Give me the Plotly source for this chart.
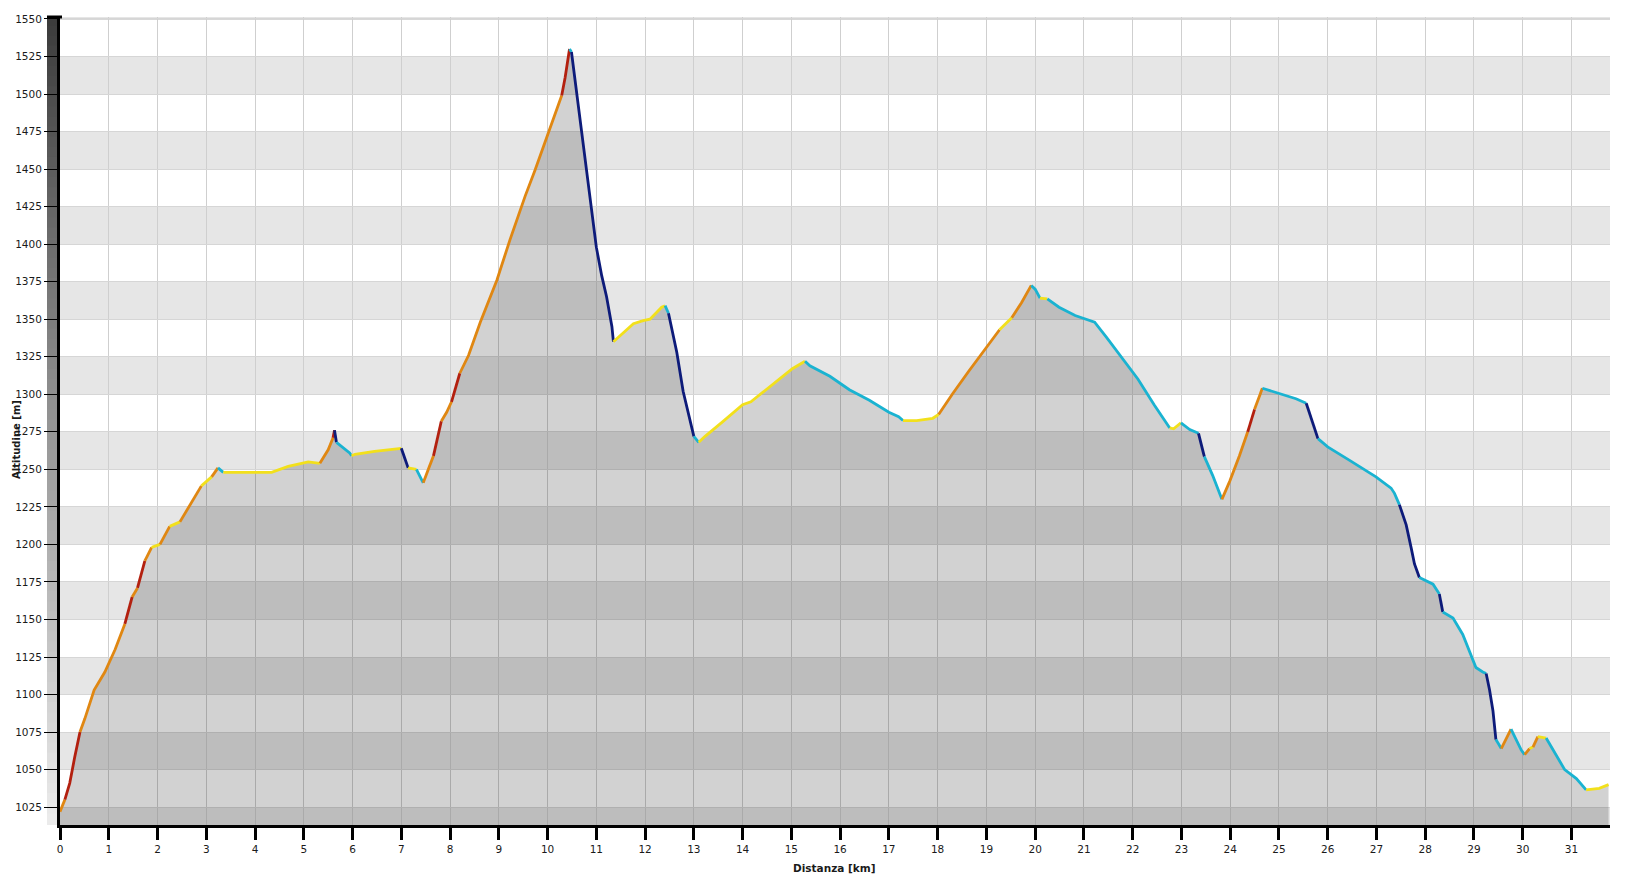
import plotly.graph_objects as go

# ---- data ----
distance_km = [
    0.00, 0.10, 0.20, 0.30, 0.41, 0.51, 0.70, 0.92, 1.13, 1.33, 1.48, 1.59, 1.74, 1.88,
    2.05, 2.25, 2.46, 2.70, 2.90, 3.11, 3.24, 3.35, 3.72, 4.34, 4.68, 5.09, 5.33, 5.50,
    5.60, 5.63, 5.67, 5.94, 5.98, 6.05, 6.45, 6.97, 7.00, 7.14, 7.31, 7.45, 7.55, 7.66,
    7.82, 7.93, 8.03, 8.20, 8.38, 8.62, 8.96, 9.23, 9.54, 9.74, 9.98, 10.15, 10.29, 10.36,
    10.45, 10.49, 10.60, 10.70, 10.80, 10.90, 11.00, 11.11, 11.21, 11.32, 11.35, 11.55,
    11.76, 11.96, 12.10, 12.34, 12.41, 12.48, 12.65, 12.78, 12.92, 13.00, 13.10, 13.23,
    13.60, 14.00, 14.17, 14.40, 14.73, 15.02, 15.28, 15.38, 15.79, 16.19, 16.60, 17.00,
    17.20, 17.29, 17.57, 17.90, 18.02, 18.30, 18.63, 18.95, 19.27, 19.52, 19.72, 19.92,
    20.00, 20.10, 20.25, 20.49, 20.82, 21.06, 21.22, 21.46, 21.79, 22.11, 22.44, 22.76,
    22.84, 22.99, 23.17, 23.35, 23.47, 23.64, 23.83, 23.99, 24.19, 24.36, 24.50, 24.66,
    25.01, 25.35, 25.56, 25.66, 25.80, 26.00, 26.45, 26.99, 27.30, 27.37, 27.47, 27.61,
    27.71, 27.78, 27.88, 28.16, 28.29, 28.36, 28.57, 28.77, 28.91, 29.04, 29.18, 29.25,
    29.32, 29.39, 29.45, 29.56, 29.66, 29.76, 29.86, 29.97, 30.04, 30.14, 30.21, 30.31,
    30.48, 30.65, 30.86, 31.10, 31.30, 31.57, 31.76,
]
altitude_m = [
    1022, 1030, 1041, 1058, 1075, 1084, 1103, 1115, 1130, 1147, 1165, 1171, 1189, 1198,
    1200, 1212, 1215, 1228, 1239, 1245, 1251, 1248, 1248, 1248, 1252, 1255, 1254, 1263,
    1271, 1276, 1268, 1261, 1259, 1260, 1262, 1264, 1264, 1251, 1250, 1241, 1250, 1259,
    1282, 1288, 1295, 1314, 1326, 1348, 1376, 1403, 1432, 1449, 1471, 1487, 1499, 1511,
    1530, 1528, 1500, 1474, 1447, 1421, 1398, 1379, 1365, 1345, 1335, 1341,
    1347, 1349, 1350, 1358, 1359, 1354, 1328, 1302, 1282, 1272, 1268, 1272,
    1282, 1293, 1295, 1301, 1310, 1317, 1322, 1319, 1312, 1303, 1296, 1288,
    1285, 1282.5, 1282.5, 1284, 1286.5, 1300, 1315, 1329, 1343, 1351, 1361, 1372.5,
    1370, 1364, 1363.5, 1358, 1352.5, 1350, 1348, 1338, 1324, 1310, 1293, 1277.6,
    1277, 1281, 1276.5, 1274, 1258.5, 1246, 1230, 1242, 1259, 1275, 1290, 1304,
    1300.5, 1297, 1294, 1284, 1270.5, 1265, 1256, 1245, 1237.5, 1234, 1226.5, 1213,
    1198, 1187, 1178, 1173.5, 1167, 1155, 1151, 1140, 1129, 1118, 1115, 1114,
    1103, 1089, 1070, 1064, 1070, 1077, 1070, 1063, 1060, 1064, 1065, 1072,
    1071, 1062, 1050, 1044, 1036.5, 1037.5, 1040,
]
x_ticks = list(range(0, 32))
y_ticks = list(range(1025, 1551, 25))
x_title = "Distanza [km]"
y_title = "Altitudine [m]"

# ---- layout geometry (the page body adds an 8px offset) ----
OFF = 8
W, H = 1638 - OFF, 877 - OFF
ML, MR, MT, MB = 60 - OFF, 28, 13 - OFF, 52
X_RANGE = [0, 31.79]
Y_RANGE = [1013.1, 1551.3]
plot_w = W - ML - MR
plot_h = H - MT - MB

SLOPE_COLORS = {
    "up_steep": "#b3200f",
    "up": "#e08712",
    "flat": "#f2e01c",
    "down": "#1ab3d1",
    "down_steep": "#0d1b7a",
}


def slope_class(x0, y0, x1, y1):
    s = (y1 - y0) / ((x1 - x0) * 1000.0) * 100.0
    if s > 10.2:
        return "up_steep"
    if s > 3.5:
        return "up"
    if s >= -0.9:
        return "flat"
    if s >= -8.5:
        return "down"
    return "down_steep"


fig = go.Figure()

# filled area
fig.add_trace(go.Scatter(
    x=distance_km, y=altitude_m, mode="lines",
    line=dict(width=0, color="rgba(0,0,0,0)"),
    fill="tozeroy", fillcolor="rgba(0,0,0,0.175)",
    hoverinfo="skip", showlegend=False,
))

# slope-coloured line, grouped into runs of the same class
runs = []
for i in range(len(distance_km) - 1):
    c = slope_class(distance_km[i], altitude_m[i], distance_km[i + 1], altitude_m[i + 1])
    if runs and runs[-1][0] == c:
        runs[-1][1].append(i + 1)
    else:
        runs.append([c, [i, i + 1]])
for c, idx in runs:
    fig.add_trace(go.Scatter(
        x=[distance_km[k] for k in idx], y=[altitude_m[k] for k in idx],
        mode="lines", line=dict(color=SLOPE_COLORS[c], width=2.8),
        hoverinfo="skip", showlegend=False,
    ))

shapes = []
# alternating horizontal bands
for lo in range(1000, 1551, 25):
    if (lo // 25) % 2 == 0:
        shapes.append(dict(type="rect", xref="x", yref="y", x0=X_RANGE[0], x1=X_RANGE[1],
                           y0=lo, y1=lo + 25, fillcolor="#e6e6e6",
                           line=dict(width=0), layer="below"))

# gradient bar on the left of the y axis
N = 80
bx0 = -13.0 / plot_w
for k in range(N):
    t = k / (N - 1)
    g = int(round(60 + (235 - 60) * t))
    col = f"rgb({g},{g},{g})"
    shapes.append(dict(type="rect", xref="paper", yref="paper",
                       x0=bx0, x1=0, y0=1 - (k + 1) / N, y1=min(1.0, 1 - k / N + 0.002),
                       fillcolor=col, line=dict(width=0), layer="below"))
# top cap of the bar
shapes.append(dict(type="line", xref="paper", yref="paper", x0=bx0, x1=2.0 / plot_w,
                   y0=1, y1=1, line=dict(color="black", width=3), layer="above"))
# top border line
shapes.append(dict(type="line", xref="paper", yref="paper", x0=0, x1=1,
                   y0=1 - 2.0 / plot_h, y1=1 - 2.0 / plot_h,
                   line=dict(color="#d8d8d8", width=2), layer="below"))

fig.update_layout(
    width=W, height=H,
    margin=dict(l=ML, r=MR, t=MT, b=MB, pad=0),
    paper_bgcolor="white", plot_bgcolor="white",
    shapes=shapes,
    font=dict(family="DejaVu Sans, Verdana, sans-serif", size=10.5, color="#1a1a1a"),
    showlegend=False,
    annotations=[
        dict(text=f"<b>{x_title}</b>", xref="paper", yref="paper",
             x=(834 - 60) / plot_w, y=-(868 - 825) / plot_h, xanchor="center", yanchor="middle",
             showarrow=False, font=dict(size=10.5, color="#1a1a1a")),
        dict(text=f"<b>{y_title}</b>", xref="paper", yref="paper",
             x=-(60 - 17) / plot_w, y=1 - (438 - 13) / plot_h,
             xanchor="center", yanchor="middle", textangle=-90,
             showarrow=False, font=dict(size=10, color="#1a1a1a")),
    ],
)

fig.update_xaxes(
    range=X_RANGE, tickmode="array", tickvals=x_ticks, ticktext=[str(v) for v in x_ticks],
    showgrid=True, gridcolor="#cfcfcf", gridwidth=1,
    showline=True, linecolor="black", linewidth=3,
    ticks="outside", ticklen=12, tickwidth=3, tickcolor="black",
    zeroline=False, fixedrange=True,
)
fig.update_yaxes(
    range=Y_RANGE, tickmode="array", tickvals=y_ticks, ticktext=[str(v) for v in y_ticks],
    showgrid=True, gridcolor="#d6d6d6", gridwidth=1,
    showline=True, linecolor="black", linewidth=3,
    ticks="outside", ticklen=13, tickwidth=1, tickcolor="black",
    zeroline=False, fixedrange=True,
)

fig.write_html("out.html")
